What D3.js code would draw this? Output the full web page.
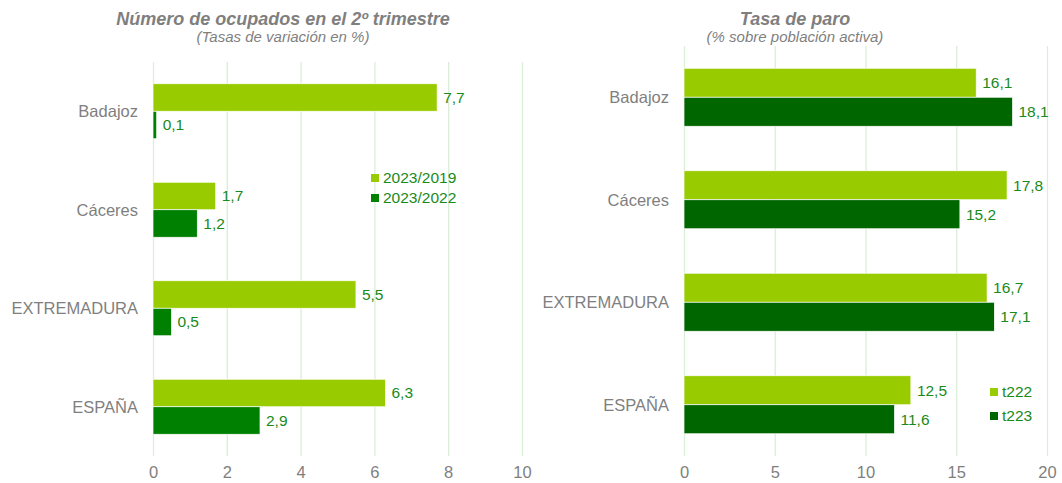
<!DOCTYPE html>
<html>
<head>
<meta charset="utf-8">
<script src="https://cdn.jsdelivr.net/npm/d3@7"></script>
<style>
  body { margin: 0; background: #fff; }
  text { font-family: Arial, "Liberation Sans", sans-serif; }
</style>
</head>
<body>
<div id="chart"></div>
<script>
// categories and values
var categories = ["Badajoz", "Cáceres", "EXTREMADURA", "ESPAÑA"];

var ocupados2019 = [7.7, 1.7, 5.5, 6.3];
var ocupados2022 = [0.1, 1.2, 0.5, 2.9];
var ocupadosKeys = ["2023/2019", "2023/2022"];
var ocupadosTicks = [0, 2, 4, 6, 8, 10];

var paroT222 = [16.1, 17.8, 16.7, 12.5];
var paroT223 = [18.1, 15.2, 17.1, 11.6];
var paroKeys = ["t222", "t223"];
var paroTicks = [0, 5, 10, 15, 20];

var W = 1062, H = 483;
var grey = "#7f7f7f", labelGreen = "#1a8a1a", gridCol = "#dbeed8";

var svg = d3.select("#chart").append("svg")
    .attr("width", W)
    .attr("height", H);

function fmt(v) { return String(v).replace(".", ","); }

function panel(opts) {
  var g = svg.append("g");
  var x = d3.scaleLinear().domain(opts.domain).range([opts.x0, opts.x1]);
  var y = d3.scaleBand().domain(categories).range([opts.y0, opts.y1]);
  var sub = d3.scaleBand().domain(d3.range(2)).range([0, opts.barH * 2]);

  // gridlines + tick labels
  var ax = g.append("g")
      .attr("transform", "translate(0," + opts.y1 + ")")
      .call(d3.axisBottom(x).tickValues(opts.ticks).tickSize(-(opts.y1 - opts.y0)).tickPadding(10));
  ax.select(".domain").remove();
  ax.selectAll(".tick line").attr("stroke", gridCol).attr("stroke-width", 1.3);
  ax.selectAll(".tick text").attr("fill", grey).style("font-size", "16.5px");

  // category labels
  g.selectAll(".cat").data(categories).enter().append("text")
      .attr("x", opts.x0 - 15)
      .attr("y", function(d) { return y(d) + y.bandwidth() / 2; })
      .attr("dy", "0.35em")
      .attr("text-anchor", "end")
      .attr("fill", grey)
      .style("font-size", "16.5px")
      .text(function(d) { return d; });

  var series = [opts.a, opts.b];
  series.forEach(function(vals, si) {
    var off = y.bandwidth() / 2 - opts.barH;
    g.selectAll(".bar" + si).data(vals).enter().append("rect")
        .attr("x", x(0))
        .attr("y", function(d, i) { return y(categories[i]) + off + sub(si); })
        .attr("width", function(d) { return x(d) - x(0); })
        .attr("height", sub.bandwidth())
        .attr("fill", opts.colors[si])
        .attr("stroke", "#fff")
        .attr("stroke-width", 0.7);
    g.selectAll(".val" + si).data(vals).enter().append("text")
        .attr("x", function(d) { return x(d) + 6; })
        .attr("y", function(d, i) { return y(categories[i]) + off + sub(si) + sub.bandwidth() / 2; })
        .attr("dy", "0.35em")
        .attr("fill", labelGreen)
        .style("font-size", "15.5px")
        .text(fmt);
  });

  // legend
  opts.keys.forEach(function(k, i) {
    var ly = opts.legY + i * opts.legGap;
    g.append("rect").attr("x", opts.legX).attr("y", ly - 4).attr("width", 8).attr("height", 8)
        .attr("fill", opts.colors[i]);
    g.append("text").attr("x", opts.legX + 12).attr("y", ly).attr("dy", "0.35em")
        .attr("fill", labelGreen).style("font-size", "15.5px").text(k);
  });

  // titles
  var cx = opts.titleX;
  g.append("text").attr("x", cx).attr("y", 25).attr("text-anchor", "middle")
      .attr("fill", grey).style("font-size", "18px").style("font-weight", "bold").style("font-style", "italic")
      .text(opts.title);
  g.append("text").attr("x", cx).attr("y", 42).attr("text-anchor", "middle")
      .attr("fill", grey).style("font-size", "15px").style("font-style", "italic")
      .text(opts.subtitle);
}

panel({
  domain: [0, 10], ticks: ocupadosTicks,
  x0: 153, x1: 522, y0: 62, y1: 456,
  barH: 27.5,
  a: ocupados2019, b: ocupados2022,
  colors: ["#99cc00", "#008000"],
  keys: ocupadosKeys, legX: 371, legY: 178, legGap: 20,
  titleX: 283,
  title: "Número de ocupados en el 2º trimestre",
  subtitle: "(Tasas de variación en %)"
});

panel({
  domain: [0, 20], ticks: paroTicks,
  x0: 684, x1: 1047, y0: 46, y1: 456,
  barH: 29,
  a: paroT222, b: paroT223,
  colors: ["#99cc00", "#006600"],
  keys: paroKeys, legX: 990, legY: 392, legGap: 24,
  titleX: 795,
  title: "Tasa de paro",
  subtitle: "(% sobre población activa)"
});
</script>
</body>
</html>
